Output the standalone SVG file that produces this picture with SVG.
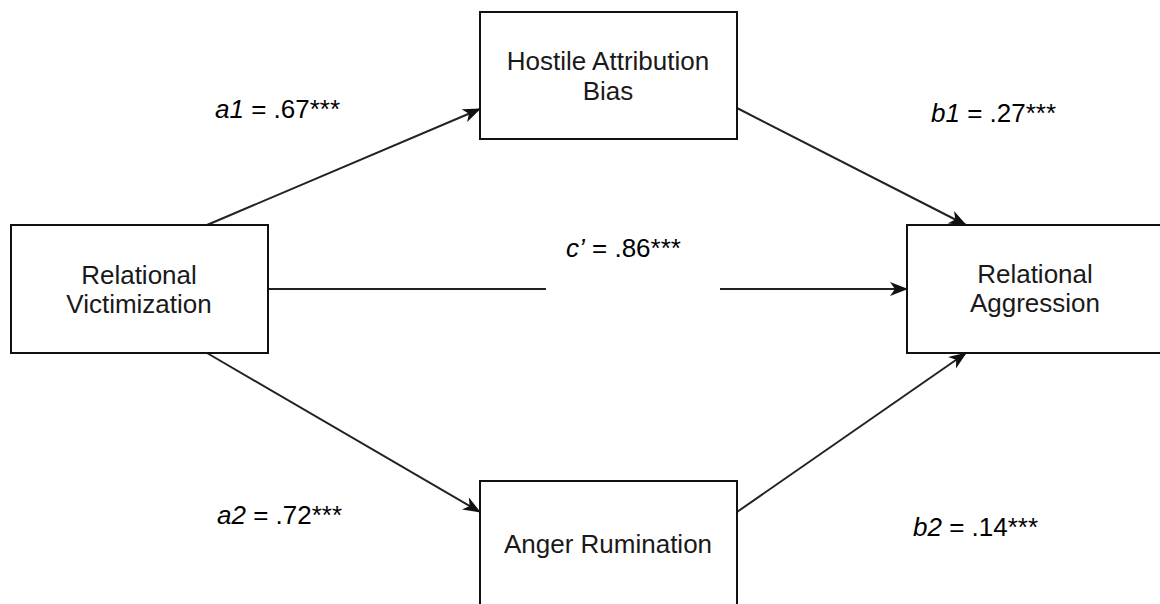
<svg xmlns="http://www.w3.org/2000/svg" width="1160" height="604" viewBox="0 0 1160 604">
<style>
.box{fill:#fff;stroke:#111;stroke-width:2}
.nt{font-family:"Liberation Sans",Arial,sans-serif;font-size:26px;fill:#1a1a1a;text-anchor:middle}
.lb{font-family:"Liberation Sans",Arial,sans-serif;font-size:26px;fill:#000}
.cn{fill:none;stroke:#222;stroke-width:2}
</style>
<defs>
<marker id="ah" markerUnits="userSpaceOnUse" markerWidth="18" markerHeight="14" viewBox="0 0 18 14" refX="17" refY="7" orient="auto">
<path d="M0,0 L18,7 L0,14 L5,7 Z" fill="#111"/>
</marker>
</defs>
<rect width="1160" height="604" fill="#fff"/>
<g id="connectors">
<line class="cn" x1="207" y1="225" x2="480" y2="109" marker-end="url(#ah)"/>
<line class="cn" x1="207" y1="353" x2="480" y2="512" marker-end="url(#ah)"/>
<line class="cn" x1="737" y1="108" x2="966" y2="225" marker-end="url(#ah)"/>
<line class="cn" x1="737" y1="512" x2="966" y2="353" marker-end="url(#ah)"/>
<line class="cn" x1="268" y1="289" x2="907" y2="289" marker-end="url(#ah)"/>
</g>
<g id="labels">
<text class="lb" x="215" y="118"><tspan font-style="italic">a1</tspan> = .67***</text>
<text class="lb" x="217" y="524"><tspan font-style="italic">a2</tspan> = .72***</text>
<text class="lb" x="931" y="122"><tspan font-style="italic">b1</tspan> = .27***</text>
<text class="lb" x="913" y="536"><tspan font-style="italic">b2</tspan> = .14***</text>
<rect x="546" y="232" width="174" height="61" fill="#fff"/>
<text class="lb" x="566" y="257"><tspan font-style="italic">c’</tspan> = .86***</text>
</g>
<g id="node-hab">
<rect class="box" x="480" y="12" width="257" height="127"/>
<text class="nt" x="608" y="70">Hostile Attribution</text>
<text class="nt" x="608" y="100">Bias</text>
</g>
<g id="node-ar">
<rect class="box" x="480" y="481" width="257" height="140"/>
<text class="nt" x="608" y="553">Anger Rumination</text>
</g>
<g id="node-rv">
<rect class="box" x="11" y="225" width="257" height="128"/>
<text class="nt" x="139" y="284">Relational</text>
<text class="nt" x="139" y="313">Victimization</text>
</g>
<g id="node-ra">
<rect class="box" x="907" y="225" width="257" height="128"/>
<text class="nt" x="1035" y="283">Relational</text>
<text class="nt" x="1035" y="312">Aggression</text>
</g>
</svg>
